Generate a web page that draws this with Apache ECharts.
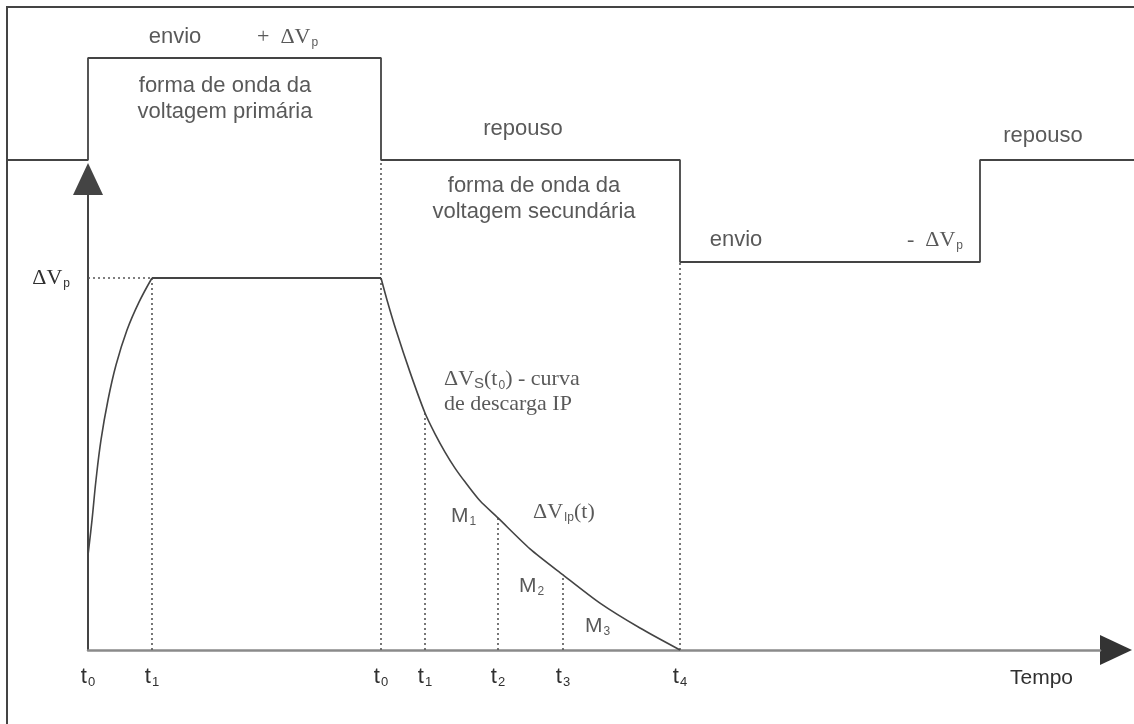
<!DOCTYPE html>
<html>
<head>
<meta charset="utf-8">
<script src="https://cdn.jsdelivr.net/npm/echarts@6/dist/echarts.min.js"></script>
<style>
  html, body { margin: 0; padding: 0; background: #ffffff; }
  #chart { width: 1134px; height: 724px; }
</style>
</head>
<body>
<div id="chart"></div>
<script>
// Time in arbitrary units (t0 = 0); voltages in units of ΔVp.

// Primary (transmitted) square wave: switching times and the level held from each one
const primaryTimes  = [-8.1, 0, 29.3, 59.2, 89.2, 104.8];
const primaryLevels = [0, 1, 0, -1, 0, 0];

// Secondary voltage: charge-up while current is on
const chargeTimes  = [0, 0.4, 0.8, 1.3, 2.0, 2.8, 3.9, 5.1, 6.4];
const chargeValues = [0.255, 0.349, 0.457, 0.565, 0.672, 0.766, 0.860, 0.935, 1.0];

// Secondary voltage: steady level ΔVp
const plateauTimes  = [6.4, 29.3];
const plateauValues = [1, 1];

// Secondary voltage: IP decay curve after switch-off
const decayTimes  = [29.3, 29.9, 30.8, 32.2, 33.7, 34.7, 35.7, 36.7, 37.7, 39.2, 41.0, 44.2, 47.5, 51.2, 55.2, 59.2];
const decayValues = [1.0, 0.941, 0.860, 0.747, 0.637, 0.581, 0.532, 0.489, 0.452, 0.401, 0.355, 0.272, 0.202, 0.126, 0.059, 0];

// Time-axis ticks
const tickTimes  = [0, 6.4, 29.3, 33.7, 41.0, 47.5, 59.2];
const tickLabels = ['t0', 't1', 't0', 't1', 't2', 't3', 't4'];

// Voltage-axis ticks
const levelTicks  = [1];
const levelLabels = ['ΔVp'];

// Dotted reference lines: vertical at each time up to a level, plus the ΔVp level line
const guideTimes = [6.4, 29.3, 33.7, 41.0, 47.5, 59.2];
const guideTops  = [1.0, 1.317, 0.637, 0.355, 0.202, 1.043];
const levelGuideTimes = [0, 6.4];

// Text notes on the primary wave (time, level)
const primaryNotes = [
  { text: '{sans|envio}', at: [8.7, 1.206], align: 'center' },
  { text: '{serif|+  ΔV}{sub|p}', at: [16.9, 1.206], align: 'left' },
  { text: '{sans|forma de onda da}\n{sans|voltagem primária}', at: [13.7, 0.598], align: 'center' },
  { text: '{sans|repouso}', at: [43.5, 0.3], align: 'center' },
  { text: '{sans|envio}', at: [64.8, -0.784], align: 'center' },
  { text: '{serif|-  ΔV}{sub|p}', at: [81.9, -0.784], align: 'left' },
  { text: '{sans|repouso}', at: [95.5, 0.235], align: 'center' }
];

// Text notes on the secondary wave (time, voltage)
const secondaryNotes = [
  { text: '{sans|forma de onda da}\n{sans|voltagem secundária}', at: [44.6, 1.212], align: 'center' },
  { text: '{serif|ΔV}{subS|S}{serif|(t}{sub|0}{serif|) - curva}\n{serif|de descarga IP}', at: [35.6, 0.694], align: 'left' },
  { text: '{mm|M}{sub|1}', at: [36.3, 0.360], align: 'left' },
  { text: '{serif|ΔV}{sub|Ip}{serif|(t)}', at: [44.5, 0.371], align: 'left' },
  { text: '{mm|M}{sub|2}', at: [43.1, 0.172], align: 'left' },
  { text: '{mm|M}{sub|3}', at: [49.7, 0.0645], align: 'left' }
];

const INK = '#303030';
const WAVE = '#444444';
const SANS = '"Liberation Sans", Arial, sans-serif';
const SERIF = '"Liberation Serif", "Times New Roman", serif';

const rich = {
  sans:  { fontFamily: SANS,  fontSize: 22, color: INK, lineHeight: 26 },
  serif: { fontFamily: SERIF, fontSize: 22, color: INK, lineHeight: 25 },
  mm:    { fontFamily: SANS,  fontSize: 21, color: INK },
  sub:   { fontFamily: SANS,  fontSize: 12, color: INK, padding: [12, 0, 0, 1] },
  subS:  { fontFamily: SANS,  fontSize: 15, color: INK, padding: [10, 0, 0, 0] }
};

const zip = (xs, ys) => xs.map((x, i) => [x, ys[i]]);

function guideData() {
  const out = [];
  out.push([levelGuideTimes[0], levelTicks[0]], [levelGuideTimes[1], levelTicks[0]], [levelGuideTimes[1], '-']);
  guideTimes.forEach((t, i) => { out.push([t, 0], [t, guideTops[i]], [t, '-']); });
  return out;
}

function noteSeries(notes, xi, yi) {
  return {
    type: 'scatter', xAxisIndex: xi, yAxisIndex: yi,
    symbol: 'circle', symbolSize: 0.1, itemStyle: { color: 'rgba(0,0,0,0)' },
    silent: true, clip: false, z: 5,
    data: notes.map(n => ({ value: n.at, label: { align: n.align } })),
    label: {
      show: true, position: 'inside', verticalAlign: 'middle',
      fontFamily: SANS, fontSize: 22, color: INK,
      formatter: p => notes[p.dataIndex].text,
      rich: rich
    }
  };
}

function nearestTick(v) {
  let best = 0;
  tickTimes.forEach((t, i) => { if (Math.abs(t - v) < Math.abs(tickTimes[best] - v)) best = i; });
  return best;
}

const chart = echarts.init(document.getElementById('chart'));

chart.setOption({
  animation: false,
  backgroundColor: '#ffffff',
  grid: [
    // frame + primary wave
    { left: 7, top: 7, right: -2, bottom: -2, show: true, borderColor: '#444', borderWidth: 2,
      backgroundColor: 'transparent', outerBoundsMode: 'none' },
    // secondary wave axes
    { left: 88, right: 34, top: 195, bottom: 74, show: false, outerBoundsMode: 'none' }
  ],
  xAxis: [
    { gridIndex: 0, type: 'value', min: -8.1, max: 104.8, show: false },
    { gridIndex: 1, type: 'value', min: 0, max: 101.2, position: 'bottom', z: 0,
      axisLine: { show: true, onZero: false, symbol: ['none', 'triangle'], symbolSize: [30, 32],
        symbolOffset: [0, 16], lineStyle: { color: '#333', width: 1 } },
      axisTick: { show: false }, axisLabel: { show: false }, splitLine: { show: false } },
    { gridIndex: 1, type: 'value', min: 0, max: 101.2, position: 'bottom', z: 1,
      axisLine: { show: true, onZero: false, lineStyle: { color: '#8a8a8a', width: 2.5 } },
      axisTick: { show: false }, splitLine: { show: false },
      axisLabel: {
        show: true, customValues: tickTimes, margin: 14,
        formatter: v => {
          const s = tickLabels[nearestTick(v)];
          return '{t|' + s.charAt(0) + '}{n|' + s.slice(1) + '}';
        },
        rich: {
          t: { fontFamily: SANS, fontSize: 22, color: INK },
          n: { fontFamily: SANS, fontSize: 13, color: INK, padding: [12, 0, 0, 1] }
        }
      },
      name: 'Tempo', nameLocation: 'end', nameGap: -90,
      nameTextStyle: { fontFamily: SANS, fontSize: 21, color: INK, align: 'left',
        verticalAlign: 'top', padding: [18, 0, 0, 0] } }
  ],
  yAxis: [
    { gridIndex: 0, type: 'value', min: -5.549, max: 1.5, show: false },
    { gridIndex: 1, type: 'value', min: 0, max: 1.2231,
      axisLine: { show: true, onZero: false, symbol: ['none', 'triangle'], symbolSize: [30, 32],
        symbolOffset: [0, 16], lineStyle: { color: '#444', width: 2 } },
      axisTick: { show: false }, splitLine: { show: false },
      axisLabel: {
        show: true, customValues: levelTicks, margin: 18,
        formatter: v => {
          const s = levelLabels[levelTicks.indexOf(v)] || levelLabels[0];
          return '{d|' + s.slice(0, 2) + '}{p|' + s.slice(2) + '}';
        },
        rich: {
          d: { fontFamily: SERIF, fontSize: 22, color: INK },
          p: { fontFamily: SANS, fontSize: 12, color: INK, padding: [12, 0, 0, 1] }
        }
      } }
  ],
  series: [
    { name: 'voltagem primária', type: 'line', xAxisIndex: 0, yAxisIndex: 0, step: 'end',
      data: zip(primaryTimes, primaryLevels), symbol: 'none', clip: false, silent: true,
      lineStyle: { color: WAVE, width: 1.8 } },
    { name: 'guias', type: 'line', xAxisIndex: 2, yAxisIndex: 1, data: guideData(),
      symbol: 'none', clip: false, silent: true, connectNulls: false,
      lineStyle: { color: '#555', width: 1.6, type: [2, 3] } },
    { name: 'carga', type: 'line', xAxisIndex: 2, yAxisIndex: 1, data: zip(chargeTimes, chargeValues),
      symbol: 'none', smooth: 0.4, clip: false, silent: true,
      lineStyle: { color: WAVE, width: 1.6 } },
    { name: 'patamar', type: 'line', xAxisIndex: 2, yAxisIndex: 1, data: zip(plateauTimes, plateauValues),
      symbol: 'none', clip: false, silent: true, lineStyle: { color: WAVE, width: 1.8 } },
    { name: 'descarga', type: 'line', xAxisIndex: 2, yAxisIndex: 1, data: zip(decayTimes, decayValues),
      symbol: 'none', smooth: 0.25, clip: false, silent: true,
      lineStyle: { color: WAVE, width: 1.6 } },
    noteSeries(primaryNotes, 0, 0),
    noteSeries(secondaryNotes, 2, 1)
  ]
});
</script>
</body>
</html>
